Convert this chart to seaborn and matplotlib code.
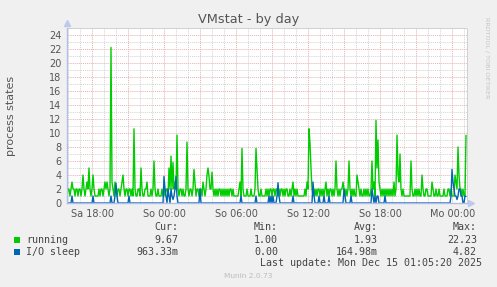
import numpy as np
import pandas as pd
import matplotlib
matplotlib.use("Agg")
import matplotlib.pyplot as plt
import seaborn as sns

# ---- data (5-minute samples, Sa ~15:53 .. Mo ~01:13) ----
start_hour = 15.89          # hours after Sa 00:00
step_hours = 5 / 60

running = [
    1, 2, 2, 1, 2, 3, 2, 2, 1, 2,
    2, 1, 2, 2, 1, 2, 4, 2, 1, 2,
    3, 2, 5, 2, 1, 2, 4, 2, 1, 1,
    1, 1, 2, 1, 2, 2, 1, 2, 3, 2,
    3, 2, 1, 2, 22.23, 3, 2, 1, 3, 2,
    1, 2, 2, 1, 2, 3, 4, 2, 1, 2,
    2, 1, 2, 2, 1, 2, 1, 10.6, 2, 1,
    1, 2, 2, 1, 5, 2, 1, 1, 2, 2,
    3, 1, 1, 1, 2, 1, 2, 6, 2, 1,
    1, 2, 1, 1, 1, 2, 1, 2, 1, 2,
    2, 1, 5, 2, 6.7, 2, 5.8, 2, 3, 2,
    9.7, 2, 1, 2, 2, 1, 2, 1, 1, 2,
    8.7, 2, 1, 2, 2, 1, 2, 4.8, 3, 1,
    2, 2, 1, 2, 2, 1, 3, 2, 1, 2,
    4, 5, 3.8, 2, 2, 4.4, 2, 1, 2, 1,
    2, 1, 2, 2, 1, 2, 1, 2, 1, 2,
    1, 2, 1, 2, 2, 1, 2, 1, 1, 1,
    1, 1, 2, 3, 1, 7.8, 2, 1, 1, 1,
    2, 1, 1, 1, 2, 1, 1, 1, 2, 7.8,
    5, 2, 1, 1, 2, 1, 1, 1, 1, 2,
    1, 2, 1, 2, 2, 1, 2, 2, 1, 2,
    2, 1, 2, 1, 2, 2, 1, 2, 1, 2,
    2, 1, 1, 2, 1, 2, 3, 1, 2, 1,
    2, 1, 1, 1, 1, 1, 1, 1, 2, 1,
    3, 2, 10.6, 8.5, 5, 2, 1, 2, 1, 2,
    1, 2, 2, 1, 2, 1, 2, 1, 2, 3,
    1, 2, 1, 2, 2, 1, 2, 1, 2, 6,
    2, 1, 2, 1, 2, 2, 3, 2, 1, 2,
    1, 2, 6, 2, 1, 2, 1, 2, 1, 1,
    4, 3, 2, 1, 2, 1, 1, 2, 1, 2,
    1, 2, 1, 1, 2, 6, 2, 3, 1, 11.8,
    5, 9, 3, 2, 1, 2, 1, 2, 1, 2,
    1, 2, 1, 2, 1, 2, 1, 3, 1, 2,
    9.7, 4, 3, 7, 2, 1, 2, 1, 1, 1,
    1, 1, 1, 1, 6, 2, 1, 1, 2, 1,
    2, 1, 2, 1, 1, 4, 2, 1, 1, 2,
    2, 1, 1, 1, 1, 3, 2, 1, 1, 2,
    1, 1, 2, 1, 1, 1, 1, 2, 1, 1,
    1, 2, 2, 1, 2, 1, 1, 1, 4, 3,
    2, 8, 4, 2, 2, 1, 2, 1, 1, 9.67,
]

io_sleep = [
    0, 0, 0, 0, 0, 1, 0, 0, 0, 0,
    0, 0, 0, 0, 0, 0, 0, 0, 0, 0,
    0, 0, 0, 0, 0, 0, 1, 0, 0, 0,
    0, 0, 0, 0, 0, 0, 0, 0, 0, 0,
    0, 0, 0, 0, 1, 0, 0, 0, 1, 2.8,
    1, 0, 0, 0, 0, 0, 0, 0, 0, 0,
    0, 0, 1, 0, 0, 0, 0, 0, 0, 0,
    0, 0, 0, 0, 0, 0, 0, 0, 0, 0,
    0, 0, 0, 0, 0, 0, 0, 0, 0, 0,
    0, 0, 0, 0, 0, 0, 0, 3.8, 2, 1,
    0, 2, 1, 0, 2, 1, 0.5, 1, 2, 3.8,
    1, 0, 0, 0, 0, 0, 0, 0, 0, 0,
    0, 0, 0, 0, 0, 0, 0, 0, 0, 0,
    0, 0, 0, 2, 0, 0, 0, 0, 0, 0,
    0, 0, 0, 0, 0, 0, 0, 0, 0, 0,
    0, 0, 0, 0, 0, 0, 0, 0, 0, 0,
    0, 0, 0, 0, 0, 0, 0, 0, 0, 0,
    0, 0, 0, 0, 1, 0, 0, 0, 0, 0,
    0, 0, 0, 0, 0, 0, 0, 0, 0, 1,
    0, 0, 0, 0, 0, 0, 0, 0, 0, 0,
    0, 0, 1, 0, 1, 0, 1, 0, 0, 0,
    1, 2.9, 1, 0, 0, 0, 0, 0, 0, 0,
    0, 0, 0, 0, 0, 0, 1, 0, 0, 0,
    0, 0, 0, 0, 0, 0, 0, 0, 0, 0,
    0, 0, 0, 0, 0, 0, 3, 1, 0, 0,
    0, 0, 1, 0, 0, 0, 0, 1, 0, 0,
    0, 0, 1, 0, 0, 0, 0, 0, 0, 0,
    0, 0, 0, 0, 0, 0, 0, 2, 1, 0,
    0, 0, 0, 0, 1, 0, 0, 0, 0, 0,
    0, 0, 0, 0, 0, 0, 0, 0, 0, 0,
    0, 0, 0, 0, 0, 2, 1, 0, 1, 0,
    1, 1, 0, 0, 0, 0, 0, 0, 1, 0,
    0, 0, 0, 0, 0, 0, 0, 0, 0, 0,
    0, 0, 0, 0, 0, 0, 0, 0, 0, 0,
    0, 0, 0, 0, 0, 0, 0, 0, 0, 0,
    0, 0, 0, 0, 0, 0, 0, 0, 0, 0,
    0, 0, 0, 0, 0, 0, 0, 0, 0, 0,
    0, 0, 0, 0, 0, 0, 0, 0, 0, 0,
    0, 0, 0, 0, 1, 4.8, 3, 2, 1, 1,
    0.5, 1, 2, 2, 1, 1, 0, 0, 1, 0.96,
]

tick_hours = [18, 24, 30, 36, 42, 48]
tick_labels = ["Sa 18:00", "So 00:00", "So 06:00", "So 12:00", "So 18:00", "Mo 00:00"]

series_names = ["running", "I/O sleep"]
series_colors = ["#00CC00", "#0066B3"]
stat_cur = ["9.67", "963.33m"]
stat_min = ["1.00", "0.00"]
stat_avg = ["1.93", "164.98m"]
stat_max = ["22.23", "4.82"]

# ---- build frame ----
n = len(running)
hours = start_hour + np.arange(n) * step_hours
df = pd.DataFrame({"hour": hours, "running": running, "io": io_sleep})

# ---- figure ----
sns.set_style("white")
plt.rcParams["font.family"] = ["DejaVu Sans"]
W, H = 497, 287
fig = plt.figure(figsize=(W / 100, H / 100), dpi=100, facecolor="#F0F0F0")
ax = fig.add_axes([67 / W, 1 - 203 / H, 400 / W, 175 / H])
ax.set_facecolor("white")

sns.lineplot(data=df, x="hour", y="running", color=series_colors[0], linewidth=1.0,
             estimator=None, ax=ax, zorder=3)
sns.lineplot(data=df, x="hour", y="io", color=series_colors[1], linewidth=1.0,
             estimator=None, ax=ax, zorder=4)

x_end = start_hour + 400 * step_hours
ax.set_xlim(start_hour, x_end)
ax.set_ylim(0, 25)

# grids
major_x = np.arange(18, 49, 3)
ax.set_xticks(major_x)
ax.set_xticklabels([tick_labels[tick_hours.index(h)] if h in tick_hours else "" for h in major_x])
ax.set_xticks(np.arange(16, 50, 1), minor=True)
ax.set_yticks(np.arange(0, 25, 2))
ax.set_yticks(np.arange(0, 26, 1), minor=True)
ax.grid(which="minor", color="#d4d4d4", linestyle=(0, (1, 1)), linewidth=0.7, zorder=0)
ax.grid(which="major", color="#e9b0b0", linestyle=(0, (1, 1)), linewidth=0.7, zorder=1)
ax.set_axisbelow(True)

ax.tick_params(axis="both", which="both", length=0, labelsize=7, labelcolor="#555555")
ax.tick_params(axis="x", pad=4)
ax.tick_params(axis="y", pad=4)

ax.set_xlabel("")
ax.set_ylabel("process states", fontsize=8, color="#555555")
ax.yaxis.set_label_coords(-50.5 / 400, 0.5)

for s in ["top", "right"]:
    ax.spines[s].set_color("#d0d0d0")
    ax.spines[s].set_linestyle((0, (1, 1)))
    ax.spines[s].set_linewidth(0.7)
for s in ["left", "bottom"]:
    ax.spines[s].set_color("#b4bde8")
    ax.spines[s].set_linewidth(1.0)
    ax.spines[s].set_zorder(5)

# axis arrows
ax.plot([0], [1.03], marker="^", color="#c0c8f0", markersize=5, transform=ax.transAxes,
        clip_on=False)
ax.plot([1.01], [0], marker=">", color="#c0c8f0", markersize=5, transform=ax.transAxes,
        clip_on=False)

# title and side text
fig.text(248.5 / W, 1 - 19 / H, "VMstat - by day", ha="center", va="center",
         fontsize=9.3, color="#555555")
fig.text(487 / W, 1 - 58 / H, "RRDTOOL / TOBI OETIKER", ha="center", va="center",
         rotation=270, fontsize=4.6, color="#c4c4c4")

# legend table
mono = "DejaVu Sans Mono"
fs = 7.2
tc = "#444444"
hy = 1 - 227 / H
for x, lbl in [(178, "Cur:"), (278, "Min:"), (378, "Avg:"), (477, "Max:")]:
    fig.text(x / W, hy, lbl, ha="right", va="center", family=mono, fontsize=fs, color=tc)

rows_y = [240, 252]
for i, name in enumerate(series_names):
    y = 1 - rows_y[i] / H
    fig.patches.append(plt.Rectangle((14 / W, y - 3.2 / H), 6 / W, 6 / H,
                                     transform=fig.transFigure, facecolor=series_colors[i],
                                     edgecolor="none"))
    fig.text(26.5 / W, y, name, ha="left", va="center", family=mono, fontsize=fs, color=tc)
    for x, val in [(178, stat_cur[i]), (278, stat_min[i]), (378, stat_avg[i]), (477, stat_max[i])]:
        fig.text(x / W, y, val, ha="right", va="center", family=mono, fontsize=fs, color=tc)

fig.text(482 / W, 1 - 263 / H, "Last update: Mon Dec 15 01:05:20 2025", ha="right",
         va="center", family=mono, fontsize=fs, color=tc)
fig.text(248 / W, 1 - 276 / H, "Munin 2.0.73", ha="center", va="center",
         fontsize=5.3, color="#bbbbbb")

fig.savefig("out.png", dpi=100, facecolor=fig.get_facecolor())
